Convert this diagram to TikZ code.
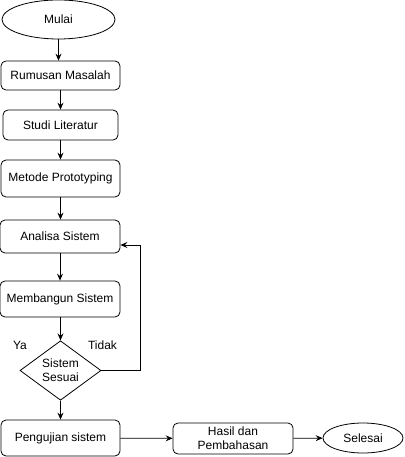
\documentclass[tikz,border=0pt]{standalone}
\usepackage{fontspec}
\setmainfont{Liberation Sans}
\usetikzlibrary{shapes.geometric,arrows.meta}

\tikzset{
    proses/.style={draw, rounded corners=5pt, inner sep=0pt, minimum width=119pt, minimum height=31pt, align=center},
    terminal/.style={draw, ellipse, inner sep=0pt},
    keputusan/.style={draw, diamond, inner sep=0pt, minimum width=81pt, minimum height=59pt, align=center},
    panah/.style={-{Stealth[length=7pt,width=6pt,inset=2.5pt]}},
}

\begin{document}
\begin{tikzpicture}[x=1pt, y=-1pt, line width=0.8pt, font=\fontsize{12}{14}\selectfont]
    \useasboundingbox (0,0) rectangle (404,457);
    % alur utama
    \node[terminal, minimum width=113pt, minimum height=39pt] (mulai) at (58.5,19.5) {Mulai};
    \node[proses, minimum height=29pt] (rumusan) at (60.5,75.5) {Rumusan Masalah};
    \node[proses, minimum width=115pt, minimum height=30pt] (studi) at (60.5,125) {Studi Literatur};
    \node[proses, minimum height=37pt] (metode) at (60.5,178.5) {Metode Prototyping};
    \node[proses, minimum width=120pt, minimum height=33pt] (analisa) at (60,236.5) {Analisa Sistem};
    \node[proses, minimum width=120pt, minimum height=36pt] (bangun) at (60,299) {Membangun Sistem};
    \node[keputusan] (sesuai) at (60.5,370.5) {Sistem\\Sesuai};
    \node[proses, minimum height=36pt] (uji) at (60.5,438) {Pengujian sistem};
    \node[proses, minimum width=120pt, minimum height=31pt] (hasil) at (233,438.5) {Hasil dan\\Pembahasan};
    \node[terminal, minimum width=80pt, minimum height=30pt] (selesai) at (363,438) {Selesai};
    \node (ya) at (20,345) {Ya};
    \node (tidak) at (102.5,345) {Tidak};
    \coordinate (balik) at (140,370.5);

    \draw[panah] (mulai) -- (mulai |- rumusan.north);
    \draw[panah] (rumusan) -- (studi);
    \draw[panah] (studi) -- (metode);
    \draw[panah] (metode) -- (analisa.north -| metode);
    \draw[panah] (analisa.south -| bangun) -- (bangun);
    \draw[panah] (bangun.south -| sesuai) -- (sesuai);
    \draw[panah] (sesuai) -- (uji);
    \draw[panah] (sesuai.east) -- (balik) |- (analisa.east |- 0,245);
    \draw[panah] (uji) -- (hasil);
    \draw[panah] (hasil) -- (selesai);
\end{tikzpicture}
\end{document}
